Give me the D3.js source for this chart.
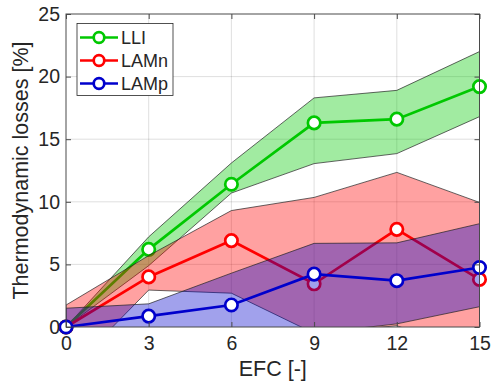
<!DOCTYPE html>
<html>
<head>
<meta charset="utf-8">
<script src="https://cdn.jsdelivr.net/npm/d3@7"></script>
<style>
  body { margin: 0; background: #fff; }
  text { font-family: "Liberation Sans", Arial, Helvetica, sans-serif; fill: #262626; }
</style>
</head>
<body>
<svg id="chart" width="491" height="385"></svg>
<script>
// Equivalent full cycles sampled
const efc = [0, 3, 6, 9, 12, 15];
const xTickValues = [0, 3, 6, 9, 12, 15];
const yTickValues = [0, 5, 10, 15, 20, 25];
const seriesNames = ["LLI", "LAMn", "LAMp"];
const seriesColors = ["#00c800", "#ff0000", "#0000cc"];

// Mean losses [%] and the spread band around each series
const lliMean  = [0, 6.2, 11.4, 16.3, 16.6, 19.2];
const lliUpper = [0, 7.2, 13.1, 18.3, 18.9, 22.0];
const lliLower = [0, 4.9, 10.7, 13.05, 13.85, 16.8];

const lamnMean  = [0, 4.0, 6.9, 3.45, 7.8, 3.8];
const lamnUpper = [1.75, 5.7, 9.3, 10.35, 12.35, 9.95];
const lamnLower = [-3.8, 2.95, 2.7, -0.5, 0.1, -2.2];

const lampMean  = [0, 0.87, 1.76, 4.22, 3.7, 4.75];
const lampUpper = [1.5, 1.85, 4.3, 6.68, 6.72, 8.25];
const lampLower = [0, -1.5, -2.5, -0.5, 0.25, 1.62];

const means  = [lliMean, lamnMean, lampMean];
const uppers = [lliUpper, lamnUpper, lampUpper];
const lowers = [lliLower, lamnLower, lampLower];

const series = seriesNames.map((name, i) => ({
  name,
  color: seriesColors[i],
  points: efc.map((e, j) => ({ efc: e, mean: means[i][j], upper: uppers[i][j], lower: lowers[i][j] }))
}));

const svg = d3.select("#chart");
const plot = { left: 66, right: 479.5, top: 14, bottom: 327 };

const x = d3.scaleLinear().domain([0, 15]).range([plot.left, plot.right]);
const y = d3.scaleLinear().domain([0, 25]).range([plot.bottom, plot.top]);

svg.append("rect").attr("width", 491).attr("height", 385).attr("fill", "#fff");

svg.append("defs").append("clipPath").attr("id", "plot-clip")
  .append("rect")
  .attr("x", plot.left).attr("y", plot.top)
  .attr("width", plot.right - plot.left).attr("height", plot.bottom - plot.top);

// Grid
const grid = svg.append("g").attr("stroke", "#262626").attr("stroke-opacity", 0.15).attr("stroke-width", 1);
xTickValues.slice(1, -1).forEach(v => {
  grid.append("line").attr("x1", x(v)).attr("x2", x(v)).attr("y1", plot.top).attr("y2", plot.bottom);
});
yTickValues.slice(1, -1).forEach(v => {
  grid.append("line").attr("y1", y(v)).attr("y2", y(v)).attr("x1", plot.left).attr("x2", plot.right);
});

const band = d3.area()
  .x(d => x(d.efc))
  .y0(d => y(d.lower))
  .y1(d => y(d.upper));

const meanLine = d3.line()
  .x(d => x(d.efc))
  .y(d => y(d.mean));

// Each series: shaded band, then its mean line and markers
series.forEach(s => {
  svg.append("path")
    .datum(s.points)
    .attr("clip-path", "url(#plot-clip)")
    .attr("d", band)
    .attr("fill", s.color)
    .attr("fill-opacity", 0.37)
    .attr("stroke", "#222")
    .attr("stroke-width", 0.7);

  svg.append("path")
    .datum(s.points)
    .attr("d", meanLine)
    .attr("fill", "none")
    .attr("stroke", s.color)
    .attr("stroke-width", 2.7);

  svg.append("g")
    .selectAll("circle")
    .data(s.points)
    .join("circle")
    .attr("cx", d => x(d.efc))
    .attr("cy", d => y(d.mean))
    .attr("r", 6.2)
    .attr("fill", "#fff")
    .attr("stroke", s.color)
    .attr("stroke-width", 2.7);
});

// Axes box and inward ticks
const axisColor = "#4a4a4a";
const styleAxis = g => {
  g.select(".domain").remove();
  g.selectAll(".tick line").attr("stroke", axisColor).attr("stroke-width", 1);
  g.selectAll(".tick text").attr("fill", "#262626").style("font-size", "19.5px");
};

svg.append("g")
  .attr("transform", `translate(0,${plot.bottom})`)
  .call(d3.axisBottom(x).tickValues(xTickValues).tickSize(-5).tickPadding(9).tickFormat(d3.format("d")))
  .call(styleAxis);

svg.append("g")
  .attr("transform", `translate(0,${plot.top})`)
  .call(d3.axisTop(x).tickValues(xTickValues).tickSize(-5).tickFormat(""))
  .call(styleAxis);

svg.append("g")
  .attr("transform", `translate(${plot.left},0)`)
  .call(d3.axisLeft(y).tickValues(yTickValues).tickSize(-5).tickPadding(6).tickFormat(d3.format("d")))
  .call(styleAxis);

svg.append("g")
  .attr("transform", `translate(${plot.right},0)`)
  .call(d3.axisRight(y).tickValues(yTickValues).tickSize(-5).tickFormat(""))
  .call(styleAxis);

svg.append("rect")
  .attr("x", plot.left).attr("y", plot.top)
  .attr("width", plot.right - plot.left).attr("height", plot.bottom - plot.top)
  .attr("fill", "none").attr("stroke", axisColor).attr("stroke-width", 1);

// Axis titles
svg.append("text")
  .attr("x", (plot.left + plot.right) / 2)
  .attr("y", 376)
  .attr("text-anchor", "middle")
  .style("font-size", "21.5px")
  .text("EFC [-]");

svg.append("text")
  .attr("transform", `translate(28,${(plot.top + plot.bottom) / 2}) rotate(-90)`)
  .attr("text-anchor", "middle")
  .style("font-size", "21.5px")
  .text("Thermodynamic losses [%]");

// Legend
const legend = svg.append("g");
legend.append("rect")
  .attr("x", 77).attr("y", 23.5).attr("width", 96).attr("height", 72)
  .attr("fill", "#fff").attr("stroke", "#262626").attr("stroke-width", 0.8);

series.forEach((s, i) => {
  const cy = 37.5 + i * 23;
  legend.append("line")
    .attr("x1", 80).attr("x2", 118).attr("y1", cy).attr("y2", cy)
    .attr("stroke", s.color).attr("stroke-width", 2.7);
  legend.append("circle")
    .attr("cx", 99).attr("cy", cy).attr("r", 5.3)
    .attr("fill", "#fff").attr("stroke", s.color).attr("stroke-width", 2.7);
  legend.append("text")
    .attr("x", 121).attr("y", cy).attr("dy", "0.36em")
    .style("font-size", "18px")
    .text(s.name);
});
</script>
</body>
</html>
